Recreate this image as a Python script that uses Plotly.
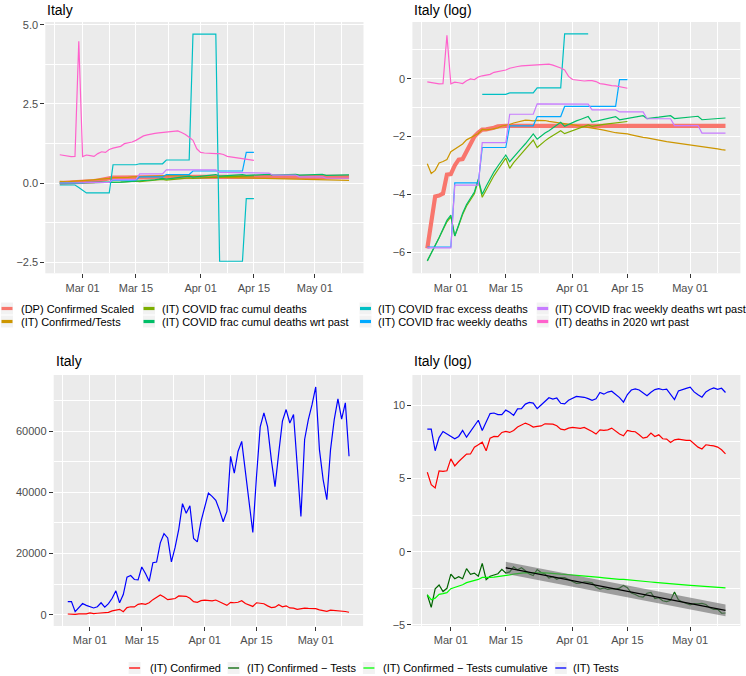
import numpy as np
import pandas as pd
import plotly.graph_objects as go

W, H = 746, 676

# daily dates, Feb 24 .. May 10 2020
dates = pd.date_range("2020-02-24", "2020-05-10", freq="D")

# ---- bottom panels: daily counts ----
tests = [
    4270, 4270, 975, 2400, 3640, 3040, 2590, 2200, 2590, 3900,
    2460, 3640, 5380, 7800, 3900, 6600, 12300, 12800, 11500, 11400,
    15600, 13500, 10900, 17000, 17200, 23500, 26500, 25100, 17300, 22000,
    28000, 36300, 33200, 35600, 24900, 23800, 30500, 35500, 39800, 38700,
    37400, 34200, 30400, 33800, 51800, 46300, 53400, 56700, 46900, 36500,
    26900, 45300, 61400, 66000, 61400, 50700, 41900, 52900, 63300, 67100,
    62700, 65500, 47400, 32100, 57300, 63800, 68700, 74500, 54000, 44200,
    37600, 54000, 63800, 70600, 64000, 69300, 51800,
]
confirmed = [
    226, 96, 77, 247, 240, 250, 561, 347, 469, 614,
    773, 780, 1250, 1466, 1755, 973, 2300, 2590, 2550, 3400,
    3640, 3400, 3900, 4915, 5770, 6440, 5770, 4915, 5120, 5300,
    6130, 6000, 6000, 5380, 4270, 4060, 4580, 4780, 4580, 4520,
    4800, 4270, 3640, 3040, 4060, 3900, 4060, 4580, 3640, 3040,
    2700, 3900, 3640, 3570, 2890, 2300, 2460, 3260, 2590, 2890,
    2210, 2160, 1720, 2060, 2160, 2060, 1980, 1980, 1570, 1250,
    1100, 1466, 1400, 1366, 1250, 1040, 790,
]

# ---- top panels (natural log of the fractions) ----
dp_confirmed_scaled_log = [
    -5.87, -5.00, -4.07, -4.04, -3.97, -3.32, -3.30, -3.00, -2.80, -2.78,
    -2.50, -2.22, -2.00, -1.86, -1.76, -1.75, -1.74, -1.70, -1.65, -1.63,
    -1.63, -1.63, -1.63, -1.63, -1.63, -1.63, -1.63, -1.63, -1.63, -1.63,
    -1.63, -1.63, -1.63, -1.63, -1.63, -1.63, -1.63, -1.63, -1.63, -1.63,
    -1.63, -1.63, -1.63, -1.63, -1.63, -1.63, -1.63, -1.63, -1.63, -1.63,
    -1.63, -1.63, -1.63, -1.63, -1.63, -1.63, -1.63, -1.63, -1.63, -1.63,
    -1.63, -1.63, -1.63, -1.63, -1.63, -1.63, -1.63, -1.63, -1.63, -1.63,
    -1.63, -1.63, -1.63, -1.63, -1.63, -1.63, -1.63,
]
cumul_deaths_log = [
    -6.30, -6.05, -5.80, -5.50, -5.22, -4.95, -4.78, -5.44, -5.08, -4.70,
    -4.40, -4.18, -3.98, -3.52, -4.10, -3.85, -3.58, -3.35, -3.15, -2.95,
    -2.75, -3.10, -2.90, -2.75, -2.60, -2.45, -2.30, -2.12, -2.38, -2.25,
    -2.15, -2.05, -1.97, -1.88, -1.80, -1.90, -1.85, -1.80, -1.75, -1.70,
    -1.65, -1.60, -1.65, -1.62, -1.60, -1.58, -1.56, -1.54, -1.52, -1.52,
    -1.50, -1.48,
]
cumul_deaths_wrt_past_log = [
    -6.30, -6.05, -5.80, -5.50, -5.20, -4.90, -4.72, -5.44, -5.05, -4.65,
    -4.35, -4.13, -3.92, -3.47, -4.00, -3.72, -3.45, -3.22, -3.02, -2.82,
    -2.64, -2.87, -2.70, -2.55, -2.40, -2.25, -2.08, -1.91, -2.09, -1.98,
    -1.88, -1.80, -1.70, -1.60, -1.51, -1.65, -1.58, -1.52, -1.46, -1.41,
    -1.36, -1.31, -1.50, -1.47, -1.44, -1.41, -1.38, -1.34, -1.31, -1.42,
    -1.40, -1.38, -1.36, -1.34, -1.31, -1.28, -1.38, -1.37, -1.35, -1.33,
    -1.31, -1.29, -1.28, -1.38, -1.37, -1.36, -1.35, -1.33, -1.31, -1.30,
    -1.42, -1.41, -1.40, -1.39, -1.38, -1.37, -1.36,
]
excess_deaths_frac = [
    -0.06, -0.06, -0.06, -0.06, -0.06, -0.14, -0.23, -0.31, -0.31, -0.31,
    -0.31, -0.31, -0.31, -0.31, 0.58, 0.58, 0.58, 0.58, 0.58, 0.58,
    0.58, 0.61, 0.61, 0.61, 0.61, 0.61, 0.61, 0.61, 0.73, 0.73,
    0.73, 0.73, 0.73, 0.73, 0.73, 4.71, 4.71, 4.71, 4.71, 4.71,
    4.71, 4.71, -2.47, -2.47, -2.47, -2.47, -2.47, -2.47, -2.47, -0.49,
    -0.49, -0.49,
]
weekly_deaths_log = [
    -5.82, -5.82, -5.82, -5.82, -5.82, -5.82, -5.82, -3.60, -3.60, -3.60,
    -3.60, -3.60, -3.60, -3.60, -2.38, -2.38, -2.38, -2.38, -2.38, -2.38,
    -2.38, -1.63, -1.63, -1.63, -1.63, -1.63, -1.63, -1.63, -1.31, -1.31,
    -1.31, -1.31, -1.31, -1.31, -1.31, -0.96, -0.96, -0.96, -0.96, -0.96,
    -0.96, -0.96, -0.96, -0.96, -0.96, -0.96, -0.96, -0.96, -0.96, -0.03,
    -0.03, -0.03,
]
weekly_deaths_wrt_past_log = [
    -5.85, -5.85, -5.85, -5.85, -5.85, -5.85, -5.85, -3.68, -3.68, -3.68,
    -3.68, -3.68, -3.68, -3.68, -2.21, -2.21, -2.21, -2.21, -2.21, -2.21,
    -2.21, -1.23, -1.23, -1.23, -1.23, -1.23, -1.23, -1.23, -0.87, -0.87,
    -0.87, -0.87, -0.87, -0.87, -0.87, -0.88, -0.88, -0.88, -0.88, -0.88,
    -0.88, -0.88, -1.08, -1.08, -1.08, -1.08, -1.08, -1.08, -1.08, -1.15,
    -1.15, -1.15, -1.15, -1.15, -1.15, -1.15, -1.385, -1.385, -1.385, -1.385,
    -1.385, -1.385, -1.385, -1.62, -1.62, -1.62, -1.62, -1.62, -1.62, -1.62,
    -1.88, -1.88, -1.88, -1.88, -1.88, -1.88, -1.88,
]
deaths_2020_wrt_past_log = [
    -0.11, -0.13, -0.16, -0.18, -0.17, 1.50, -0.18, -0.12, -0.14, -0.17,
    -0.07, -0.01, -0.03, 0.06, 0.10, 0.12, 0.15, 0.22, 0.24, 0.26,
    0.30, 0.36, 0.40, 0.42, 0.44, 0.45, 0.46, 0.47, 0.48, 0.48,
    0.49, 0.50, 0.47, 0.43, 0.37, 0.30, 0.08, -0.03, -0.05, -0.06,
    -0.08, -0.07, -0.07, -0.10, -0.17, -0.19, -0.22, -0.24, -0.25, -0.28,
    -0.30, -0.33,
]

tick_dates = ["2020-03-01", "2020-03-15", "2020-04-01", "2020-04-15", "2020-05-01"]
tick_labels = ["Mar 01", "Mar 15", "Apr 01", "Apr 15", "May 01"]
minor_dates = ["2020-02-22 12:00", "2020-03-08", "2020-03-23 12:00",
               "2020-04-08", "2020-04-23", "2020-05-08"]

# ---- derived series ----
conf = np.array(confirmed, float)
tst = np.array(tests, float)
ratio_cum = np.cumsum(conf) / np.cumsum(tst)
ratio_cum_log = np.log(ratio_cum)
conf_log = np.log(conf)
tests_log = np.log(tst)
diff_log = conf_log - tests_log

excess = np.array(excess_deaths_frac, float)
excess_log = np.full_like(excess, np.nan)
excess_log[excess > 0] = np.log(excess[excess > 0])

# linear fit of Confirmed - Tests from Mar 15 on, with a band
idx = np.arange(len(dates))
fit_mask = dates >= pd.Timestamp("2020-03-15")
xf = idx[fit_mask]
yf = diff_log[fit_mask]
b1, b0 = np.polyfit(xf, yf, 1)
yhat = b0 + b1 * xf
n = len(xf)
s = np.sqrt(np.sum((yf - yhat) ** 2) / (n - 2))
se = s * np.sqrt(1 + 1 / n + (xf - xf.mean()) ** 2 / np.sum((xf - xf.mean()) ** 2))
band_lo, band_hi = yhat - 2.33 * se, yhat + 2.33 * se
fit_dates = dates[fit_mask]

top_series = [
    # name, colour, log values, linear values, width
    ("(DP) Confirmed Scaled", "#F8766D", np.array(dp_confirmed_scaled_log), None, 4.2),
    ("(IT) Confirmed/Tests", "#CD9600", ratio_cum_log, None, 1.2),
    ("(IT) COVID frac cumul deaths", "#7CAE00", np.array(cumul_deaths_log), None, 1.2),
    ("(IT) COVID frac cumul deaths wrt past", "#00BE67", np.array(cumul_deaths_wrt_past_log), None, 1.2),
    ("(IT) COVID frac excess deaths", "#00BFC4", excess_log, excess, 1.2),
    ("(IT) COVID frac weekly deaths", "#00A9FF", np.array(weekly_deaths_log), None, 1.2),
    ("(IT) COVID frac weekly deaths wrt past", "#C77CFF", np.array(weekly_deaths_wrt_past_log), None, 1.2),
    ("(IT) deaths in 2020 wrt past", "#FF61CC", np.array(deaths_2020_wrt_past_log), None, 1.2),
]

fig = go.Figure()

for name, col, logv, linv, lw in top_series:
    lin = linv if linv is not None else np.exp(logv)
    xs = dates[:len(lin)]
    fig.add_trace(go.Scatter(x=xs, y=lin, mode="lines", name=name, showlegend=False,
                             line=dict(color=col, width=lw), xaxis="x", yaxis="y"))
    fig.add_trace(go.Scatter(x=xs, y=logv, mode="lines", name=name, showlegend=False,
                             line=dict(color=col, width=lw), xaxis="x2", yaxis="y2"))

bottom_series = [
    ("(IT) Confirmed", "#FF0000"),
    ("(IT) Confirmed \u2212 Tests", "#006400"),
    ("(IT) Confirmed \u2212 Tests cumulative", "#00FF00"),
    ("(IT) Tests", "#0000FF"),
]
fig.add_trace(go.Scatter(x=dates, y=conf, mode="lines", showlegend=False,
                         line=dict(color="#FF0000", width=1.2), xaxis="x3", yaxis="y3"))
fig.add_trace(go.Scatter(x=dates, y=tst, mode="lines", showlegend=False,
                         line=dict(color="#0000FF", width=1.2), xaxis="x3", yaxis="y3"))

for yv, col in [(conf_log, "#FF0000"), (diff_log, "#006400"),
                (ratio_cum_log, "#00FF00"), (tests_log, "#0000FF")]:
    fig.add_trace(go.Scatter(x=dates, y=yv, mode="lines", showlegend=False,
                             line=dict(color=col, width=1.2), xaxis="x4", yaxis="y4"))

fig.add_trace(go.Scatter(
    x=list(fit_dates) + list(fit_dates[::-1]),
    y=list(band_hi) + list(band_lo[::-1]),
    fill="toself", fillcolor="rgba(105,105,105,0.6)", line=dict(width=0),
    mode="lines", showlegend=False, hoverinfo="skip", xaxis="x4", yaxis="y4"))
fig.add_trace(go.Scatter(x=fit_dates, y=yhat, mode="lines", showlegend=False,
                         line=dict(color="black", width=1.3), xaxis="x4", yaxis="y4"))

# ---- axes ----
x_lo = dates[0] - pd.Timedelta(days=3.8)
x_hi = dates[-1] + pd.Timedelta(days=3.8)
axis_font = dict(family="Liberation Sans, Arial, sans-serif", size=11, color="#4D4D4D")


def xcfg(px0, px1, anchor):
    return dict(domain=[px0 / W, px1 / W], anchor=anchor, type="date",
                range=[x_lo, x_hi], tickmode="array", tickvals=tick_dates, ticktext=tick_labels,
                showgrid=True, gridcolor="white", gridwidth=1.1, zeroline=False, showline=False,
                ticks="outside", ticklen=4, tickwidth=1, tickcolor="#333333",
                tickfont=axis_font, automargin=False,
                minor=dict(tickmode="array", tickvals=minor_dates, showgrid=True,
                           gridcolor="white", gridwidth=0.55, ticks=""))


def ycfg(py0, py1, anchor, rng, vals, texts, minor_vals):
    return dict(domain=[1 - py1 / H, 1 - py0 / H], anchor=anchor, range=rng,
                tickmode="array", tickvals=vals, ticktext=texts,
                showgrid=True, gridcolor="white", gridwidth=1.1, zeroline=False, showline=False,
                ticks="outside", ticklen=4, tickwidth=1, tickcolor="#333333",
                tickfont=axis_font, automargin=False,
                minor=dict(tickmode="array", tickvals=minor_vals, showgrid=True,
                           gridcolor="white", gridwidth=0.55, ticks=""))


fig.update_layout(
    width=W, height=H, margin=dict(l=0, r=0, t=0, b=0),
    paper_bgcolor="white", plot_bgcolor="#EBEBEB", showlegend=False,
    font=dict(family="Liberation Sans, Arial, sans-serif", size=11, color="black"),
    xaxis=xcfg(45.3, 363.5, "y"),
    yaxis=ycfg(22, 273.3, "x", [-2.85, 5.09], [-2.5, 0, 2.5, 5.0],
               ["\u22122.5", "0.0", "2.5", "5.0"], [-1.25, 1.25, 3.75]),
    xaxis2=xcfg(412.4, 740.4, "y2"),
    yaxis2=ycfg(22, 273.3, "x2", [-6.73, 1.96], [-6, -4, -2, 0],
                ["\u22126", "\u22124", "\u22122", "0"], [-5, -3, -1, 1]),
    xaxis3=xcfg(53.7, 363.1, "y3"),
    yaxis3=ycfg(375, 626, "x3", [-3700, 78400], [0, 20000, 40000, 60000],
                ["0", "20000", "40000", "60000"], [10000, 30000, 50000, 70000]),
    xaxis4=xcfg(412.4, 740.4, "y4"),
    yaxis4=ycfg(375, 626, "x4", [-5.07, 12.05], [-5, 0, 5, 10],
                ["\u22125", "0", "5", "10"], [-2.5, 2.5, 7.5]),
)

# ---- titles ----
for txt, px, py in [("Italy", 45.3, 9.5), ("Italy (log)", 412.4, 9.5),
                    ("Italy", 53.7, 361), ("Italy (log)", 412.4, 361)]:
    fig.add_annotation(text=txt, x=px / W, y=1 - py / H, xref="paper", yref="paper",
                       xanchor="left", yanchor="middle", showarrow=False,
                       font=dict(size=14, color="black"))

# ---- legends (ggplot style keys) ----
def add_key(kx, ky, col, lw, label, tx):
    fig.add_shape(type="rect", xref="paper", yref="paper",
                  x0=kx / W, x1=(kx + 12) / W, y0=1 - (ky + 6) / H, y1=1 - (ky - 6) / H,
                  fillcolor="#F2F2F2", line=dict(width=0))
    fig.add_shape(type="line", xref="paper", yref="paper",
                  x0=(kx + 0.5) / W, x1=(kx + 11.5) / W, y0=1 - ky / H, y1=1 - ky / H,
                  line=dict(color=col, width=lw))
    fig.add_annotation(text=label, x=tx / W, y=1 - ky / H, xref="paper", yref="paper",
                       xanchor="left", yanchor="middle", showarrow=False,
                       font=dict(size=11, color="black"))


top_key_x = [1, 143, 359.5, 536.7]
top_text_x = [19, 159.5, 376, 553]
top_rows = [308.5, 321.5]
for i, (name, col, _, _, _) in enumerate(top_series):
    c, r = divmod(i, 2)
    add_key(top_key_x[c], top_rows[r], col, 3.2, name, top_text_x[c])

bot_key_x = [128.6, 227.6, 362.9, 554.8]
bot_text_x = [147.6, 245, 381, 571.4]
for i, (name, col) in enumerate(bottom_series):
    add_key(bot_key_x[i], 668, col, 1.3, name, bot_text_x[i])

# the page's default 8px body margin would shift the figure out of the window
fig.write_html("out.html", config={"displayModeBar": False},
               post_script="document.body.style.margin='0px';")
